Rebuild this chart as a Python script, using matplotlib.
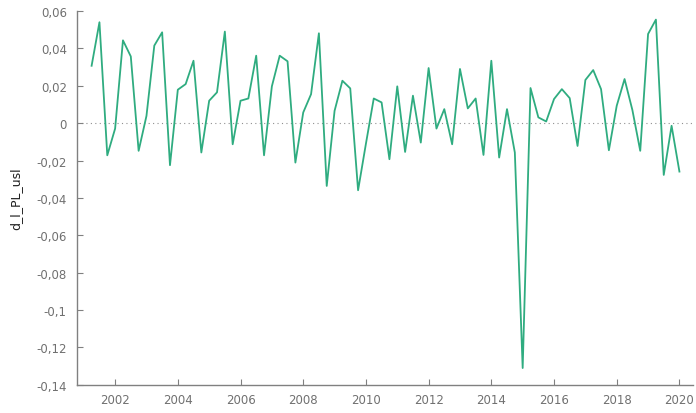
import matplotlib
matplotlib.use("Agg")
import matplotlib.pyplot as plt
import numpy as np
from matplotlib.ticker import FuncFormatter

# quarterly series, 2001Q2 .. 2020Q1
start_year = 2001.25
values = [
    0.0307, 0.0540, -0.0172, -0.0029, 0.0443, 0.0357, -0.0148, 0.0039,
    0.0415, 0.0486, -0.0225, 0.0179, 0.0209, 0.0334, -0.0157, 0.0120,
    0.0165, 0.0490, -0.0113, 0.0120, 0.0132, 0.0361, -0.0172, 0.0197,
    0.0361, 0.0331, -0.0211, 0.0057, 0.0155, 0.0481, -0.0336, 0.0066,
    0.0227, 0.0186, -0.0359, -0.0110, 0.0132, 0.0111, -0.0193, 0.0197,
    -0.0154, 0.0147, -0.0104, 0.0295, -0.0029, 0.0075, -0.0113, 0.0290,
    0.0079, 0.0132, -0.0170, 0.0334, -0.0184, 0.0075, -0.0157, -0.1310,
    0.0188, 0.0031, 0.0009, 0.0129, 0.0182, 0.0134, -0.0122, 0.0231,
    0.0284, 0.0182, -0.0145, 0.0093, 0.0236, 0.0070, -0.0148, 0.0477,
    0.0554, -0.0277, -0.0014, -0.0259,
]
x_ticks = [2002, 2004, 2006, 2008, 2010, 2012, 2014, 2016, 2018, 2020]
y_ticks = [0.06, 0.04, 0.02, 0, -0.02, -0.04, -0.06, -0.08, -0.1, -0.12, -0.14]
ylabel = "d_l_PL_usl"

x = start_year + np.arange(len(values)) / 4

fig = plt.figure(figsize=(6.96, 4.14), dpi=100)
ax = fig.add_axes([0.110, 0.068, 0.886, 0.903])

ax.axhline(0, color="#909090", lw=0.8, ls=(0, (1, 3)), zorder=1)
ax.plot(x, values, color="#2fac80", lw=1.3, zorder=3)

ax.set_xlim(2000.77, 2020.44)
ax.set_ylim(-0.14, 0.06)
ax.set_xticks(x_ticks)
ax.set_yticks(y_ticks)


def comma_fmt(v, pos):
    s = f"{v:.2f}".rstrip("0").rstrip(".")
    if s in ("-0", "0"):
        return "0"
    return s.replace(".", ",")


ax.yaxis.set_major_formatter(FuncFormatter(comma_fmt))
ax.tick_params(direction="in", length=4, width=0.8, color="#808080",
               labelcolor="#707070", labelsize=8.5)
ax.tick_params(axis="y", pad=7)
ax.tick_params(axis="x", pad=6)

for side in ["top", "right"]:
    ax.spines[side].set_visible(False)
for side in ["left", "bottom"]:
    ax.spines[side].set_color("#808080")
    ax.spines[side].set_linewidth(1.0)

ax.set_ylabel(ylabel, fontsize=9, color="#202020")
ax.yaxis.set_label_coords(-0.088, 0.5)

fig.savefig("out.png", dpi=100)
